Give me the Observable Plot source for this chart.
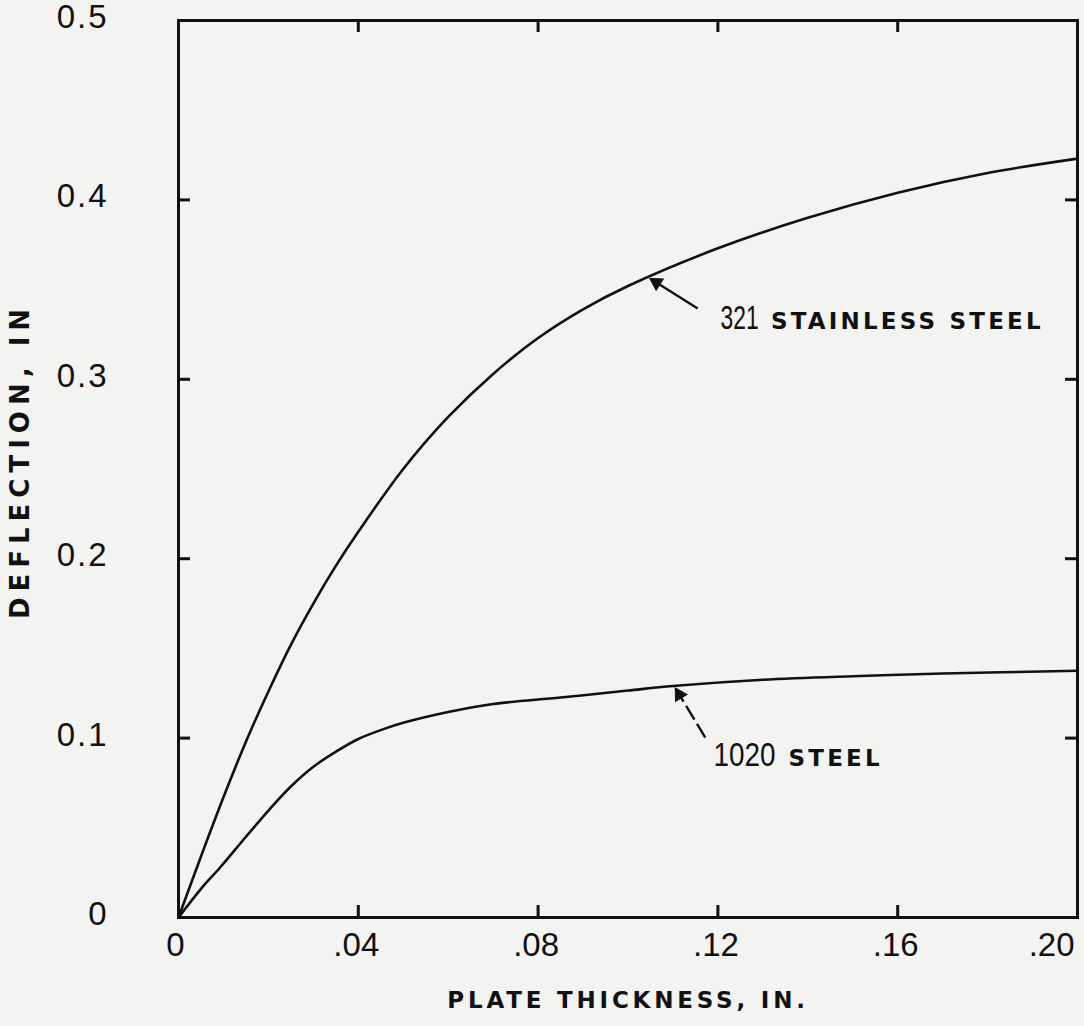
<!DOCTYPE html>
<html><head><meta charset="utf-8">
<script src="https://cdn.jsdelivr.net/npm/d3@7"></script>
<script src="https://cdn.jsdelivr.net/npm/@observablehq/plot@0.6"></script>
<style>
html,body{margin:0;padding:0;background:#f3f3f1;}
#chart svg{display:block;background:#f3f3f1;}
</style></head><body><div id="chart"></div>
<script>
// Plate thickness (in.) vs deflection (in.)
const thicknessStainless = [0, 0.005, 0.01, 0.015, 0.02, 0.025, 0.03, 0.035, 0.04, 0.05, 0.06, 0.07, 0.08, 0.09, 0.10, 0.12, 0.14, 0.16, 0.18, 0.20];
const deflectionStainless = [0, 0.034, 0.067, 0.098, 0.126, 0.152, 0.175, 0.196, 0.215, 0.250, 0.279, 0.303, 0.323, 0.339, 0.352, 0.373, 0.390, 0.404, 0.415, 0.423];
const thickness1020 = [0, 0.005, 0.0093, 0.015, 0.0205, 0.025, 0.03, 0.0354, 0.04, 0.0456, 0.05, 0.06, 0.07, 0.085, 0.10, 0.11, 0.13, 0.15, 0.17, 0.20];
const deflection1020 = [0, 0.016, 0.028, 0.045, 0.061, 0.073, 0.084, 0.093, 0.0995, 0.105, 0.1085, 0.1145, 0.119, 0.1226, 0.1265, 0.129, 0.1325, 0.1345, 0.136, 0.1375];

const xTicks = [0, 0.04, 0.08, 0.12, 0.16, 0.20];
const xTickLabels = ["0", ".04", ".08", ".12", ".16", ".20"];
const yTicks = [0, 0.1, 0.2, 0.3, 0.4, 0.5];
const yTickLabels = ["0", "0.1", "0.2", "0.3", "0.4", "0.5"];
const xTitle = "PLATE THICKNESS, IN.";
const yTitle = "DEFLECTION, IN";

const curveIds = ["321", "1020"];
const curveNames = ["STAINLESS STEEL", "STEEL"];
// annotation anchors (data units): label start, name start, baseline, arrow tail, arrow head
const labelX = [0.1206, 0.119];
const nameX = [0.1318, 0.1357];
const labelY = [0.3283, 0.0847];
const arrowFrom = [[0.1155, 0.3395], [0.1172, 0.1003]];
const arrowTo = [[0.1050, 0.3560], [0.1106, 0.1276]];

const W = 1084, H = 1026, ML = 178, MR = 7, MT = 20, MB = 109;
const plotW = W - ML - MR, plotH = H - MT - MB;
const xDomain = [0, 0.2], yDomain = [0, 0.5];
const tickLen = 12;
const ink = "#111";

const stainless = thicknessStainless.map((t, i) => ({t, d: deflectionStainless[i]}));
const carbon = thickness1020.map((t, i) => ({t, d: deflection1020[i]}));
const xInner = xTicks.slice(1, -1);
const yInner = yTicks.slice(1, -1);
const pxX = plotW / (xDomain[1] - xDomain[0]), pxY = plotH / (yDomain[1] - yDomain[0]);
const labels = curveIds.map((id, i) => {
  const [x1, y1] = arrowFrom[i], [x2, y2] = arrowTo[i];
  const vx = (x1 - x2) * pxX, vy = (y2 - y1) * pxY; // screen vector head->tail (y down)
  const len = Math.hypot(vx, vy), back = 7 / len;
  return {id, name: curveNames[i], x: labelX[i], nx: nameX[i], y: labelY[i], x1, y1, x2, y2,
    hx: x2 + (x1 - x2) * back, hy: y2 + (y1 - y2) * back,
    angle: Math.atan2(-vx, vy) * 180 / Math.PI};
});

const tickFont = {fontFamily: "Liberation Sans, Arial, sans-serif", fontSize: 33, fill: ink};
const titleFont = {fontFamily: "DejaVu Sans, sans-serif", fontWeight: "bold", fill: ink};

const chart = Plot.plot({
  width: W, height: H,
  marginLeft: ML, marginRight: MR, marginTop: MT, marginBottom: MB,
  x: {domain: xDomain, axis: null},
  y: {domain: yDomain, axis: null},
  style: {background: "#f3f3f1", overflow: "visible"},
  marks: [
    Plot.frame({stroke: ink, strokeWidth: 3}),
    // inward ticks on all four sides
    Plot.tickX(xInner, {x: d => d, insetTop: plotH - tickLen, stroke: ink, strokeWidth: 3}),
    Plot.tickX(xInner, {x: d => d, insetBottom: plotH - tickLen, stroke: ink, strokeWidth: 3}),
    Plot.tickY(yInner, {y: d => d, insetRight: plotW - tickLen, stroke: ink, strokeWidth: 3}),
    Plot.tickY(yInner, {y: d => d, insetLeft: plotW - tickLen, stroke: ink, strokeWidth: 3}),
    // tick labels
    Plot.text(xTicks.slice(0, -1), {x: d => d, frameAnchor: "bottom", dy: 28, dx: -2, lineAnchor: "middle", textAnchor: "middle",
      text: (d, i) => xTickLabels[i], ...tickFont}),
    Plot.text(xTicks.slice(-1), {x: d => d, frameAnchor: "bottom", dy: 28, dx: -3, lineAnchor: "middle", textAnchor: "end",
      text: () => xTickLabels[xTickLabels.length - 1], ...tickFont}),
    Plot.text(yTicks, {y: d => d, frameAnchor: "left", dx: -70, dy: -3, textAnchor: "end", lineAnchor: "middle",
      text: (d, i) => yTickLabels[i], ...tickFont}),
    // axis titles
    Plot.text([xTitle], {frameAnchor: "bottom", dy: 83, text: d => d, lineAnchor: "middle", textAnchor: "middle",
      ...titleFont, fontSize: 23}),
    Plot.text([yTitle], {frameAnchor: "left", dx: -158, dy: -8, rotate: -90, text: d => d, lineAnchor: "middle", textAnchor: "middle",
      ...titleFont, fontSize: 26}),
    // curves
    Plot.line(stainless, {x: "t", y: "d", curve: "catmull-rom", stroke: ink, strokeWidth: 2.6}),
    Plot.line(carbon, {x: "t", y: "d", curve: "catmull-rom", stroke: ink, strokeWidth: 2.6}),
    // annotation arrows: shaft + filled head
    Plot.link(labels.slice(0, 1), {x1: "x1", y1: "y1", x2: "x2", y2: "y2", stroke: ink, strokeWidth: 2.4}),
    Plot.link(labels.slice(1), {x1: "x1", y1: "y1", x2: "x2", y2: "y2", stroke: ink, strokeWidth: 2.4, strokeDasharray: "16 5"}),
    Plot.dot(labels, {x: "hx", y: "hy", symbol: "triangle", r: 5, fill: ink, stroke: ink, strokeWidth: 1, rotate: "angle"}),
    Plot.text(labels, {x: "x", y: "y", text: "id", textAnchor: "start", lineAnchor: "bottom",
      fontFamily: "Liberation Sans, Arial, sans-serif", fontSize: 34, fill: ink}),
    Plot.text(labels, {x: "nx", y: "y", text: "name", textAnchor: "start", lineAnchor: "bottom",
      ...titleFont, fontSize: 23})
  ]
});

// letter spacing / condensed digits (styling only), matched by text content
const spacing = new Map([[xTitle, 3.8], [yTitle, 6]]);
yTickLabels.forEach(s => spacing.set(s, 2));
curveNames.forEach(s => spacing.set(s, 3.2));
const idWidth = new Map([["321", 38], ["1020", 62]]);
d3.select(chart).selectAll("text").each(function() {
  const s = this.textContent;
  if (spacing.has(s)) this.setAttribute("letter-spacing", spacing.get(s));
  if (idWidth.has(s)) {
    this.setAttribute("textLength", idWidth.get(s));
    this.setAttribute("lengthAdjust", "spacingAndGlyphs");
  }
});
document.getElementById("chart").appendChild(chart);
</script>
</body></html>
